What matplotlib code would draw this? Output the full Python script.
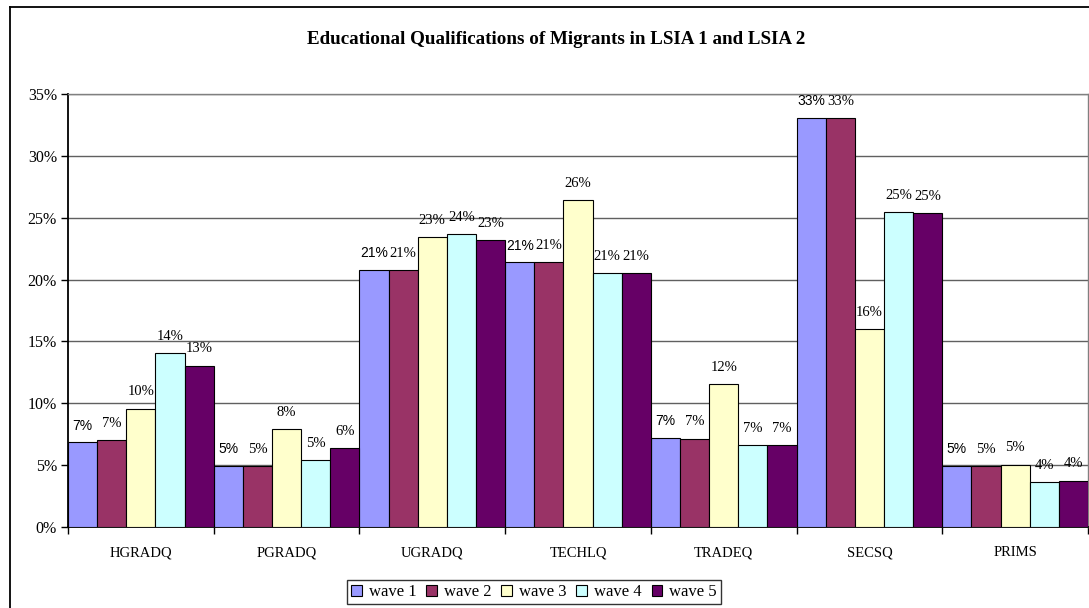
import matplotlib
matplotlib.use("Agg")
import matplotlib.pyplot as plt
import numpy as np
from matplotlib.lines import Line2D

categories = ["HGRADQ", "PGRADQ", "UGRADQ", "TECHLQ", "TRADEQ", "SECSQ", "PRIMS"]
series_names = ["wave 1", "wave 2", "wave 3", "wave 4", "wave 5"]
wave1 = [6.85, 4.95, 20.8, 21.4, 7.23, 33.05, 4.94]
wave2 = [7.0, 4.9, 20.8, 21.4, 7.15, 33.05, 4.94]
wave3 = [9.57, 7.9, 23.45, 26.45, 11.55, 16.0, 5.05]
wave4 = [14.05, 5.4, 23.7, 20.5, 6.63, 25.45, 3.64]
wave5 = [13.05, 6.4, 23.2, 20.5, 6.63, 25.35, 3.75]
series = [wave1, wave2, wave3, wave4, wave5]
colors = ["#9999FF", "#993366", "#FFFFCC", "#CCFFFF", "#660066"]
yticks = [0, 5, 10, 15, 20, 25, 30, 35]

SERIF = "Liberation Serif"
SANS = "Liberation Sans"

fig = plt.figure(figsize=(10.89, 6.08), dpi=100)
ax = fig.add_axes([68/1089, 81/608, 1020/1089, 433/608])

n = len(series)
width = 1.0 / n
x = np.arange(len(categories))
for i, (vals, col) in enumerate(zip(series, colors)):
    pos = x - 0.5 + width * (i + 0.5)
    ax.bar(pos, vals, width=width, color=col, edgecolor="black", linewidth=0.8,
           zorder=3, label=series_names[i])
    for px, v in zip(pos, vals):
        txt = f"{int(v + 0.5)}%"
        if i == 0:
            ax.annotate(txt, (px, v), xytext=(0, 12), textcoords="offset points",
                        ha="center", va="center", fontsize=10, family=SANS, zorder=4)
        else:
            ax.annotate(txt, (px, v), xytext=(0, 12), textcoords="offset points",
                        ha="center", va="center", fontsize=10.5, family=SERIF, zorder=4)

ax.set_xlim(-0.5, len(categories) - 0.5)
ax.set_ylim(0, 35)
ax.set_yticks(yticks)
ax.set_yticklabels([f"{t}%" for t in yticks], family=SERIF, fontsize=11.5)
ax.yaxis.grid(True, color="#606060", linewidth=1.0, zorder=0)
ax.set_axisbelow(True)

ax.set_xticks(np.arange(len(categories) + 1) - 0.5)
ax.set_xticklabels([])
ax.set_xticks(x, minor=True)
ax.set_xticklabels(categories, minor=True, family=SERIF, fontsize=10.5)
ax.tick_params(axis="x", which="minor", length=0, pad=14)
ax.tick_params(axis="x", which="major", length=5, width=1, direction="out")
ax.tick_params(axis="y", length=5, width=1, direction="out", pad=3)

for s in ["top", "right"]:
    ax.spines[s].set_color("#808080")
    ax.spines[s].set_linewidth(1.0)
for s in ["left", "bottom"]:
    ax.spines[s].set_color("black")
    ax.spines[s].set_linewidth(1.3)

fig.text(556/1089, 1 - 40/608, "Educational Qualifications of Migrants in LSIA 1 and LSIA 2",
         ha="center", va="center", fontsize=13.7, fontweight="bold", family=SERIF)

leg = fig.legend(loc="center", bbox_to_anchor=(534/1089, 1 - 592/608), ncol=5,
                 prop={"family": SERIF, "size": 12}, frameon=True, fancybox=False,
                 edgecolor="black", handlelength=0.65, handleheight=0.65,
                 handletextpad=0.4, columnspacing=0.6, borderpad=0.25, borderaxespad=0)
leg.get_frame().set_linewidth(1.0)

# outer chart frame (cut at right and bottom)
fig.add_artist(Line2D([10/1089, 10/1089], [0, 1 - 7/608], transform=fig.transFigure,
                      color="black", linewidth=1.3))
fig.add_artist(Line2D([10/1089, 1], [1 - 7/608, 1 - 7/608], transform=fig.transFigure,
                      color="black", linewidth=1.3))

fig.savefig("out.png", dpi=100)
